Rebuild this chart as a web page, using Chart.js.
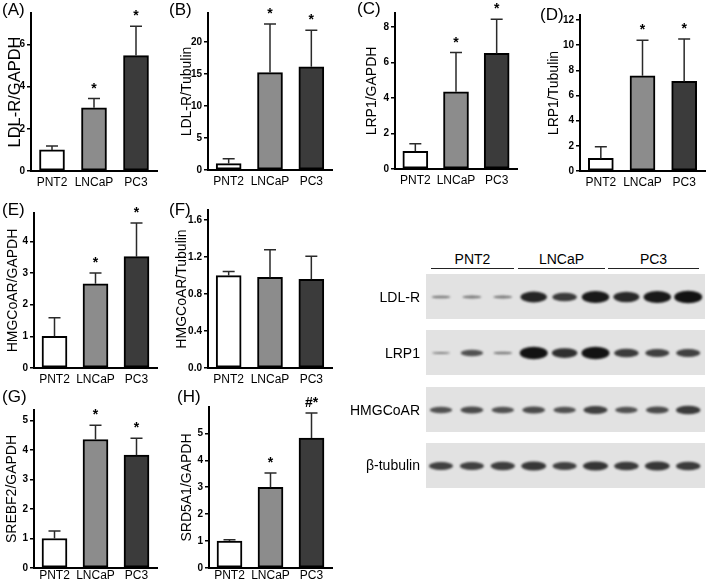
<!DOCTYPE html>
<html>
<head>
<meta charset="utf-8">
<script src="https://cdn.jsdelivr.net/npm/chart.js@4.4.1/dist/chart.umd.min.js"></script>
<style>
body { margin: 0; background: #fff; font-family: "Liberation Sans", Arial, sans-serif; }
#fig { position: relative; width: 709px; height: 586px; overflow: hidden; }
#fig canvas { position: absolute; }
.letter { position: absolute; font-size: 17px; line-height: 17px; color: #000; }
.blotLbl { position: absolute; width: 100px; text-align: right; font-size: 14px; line-height: 16px; color: #000; }
.hdr { position: absolute; text-align: center; font-size: 14px; line-height: 16px; color: #000; }
.hline { position: absolute; height: 0; border-top: 1.5px solid #222; }
</style>
</head>
<body>
<div id="fig">
  <canvas id="blot" width="349" height="225" style="left:360px; top:270px;"></canvas>
</div>
<script>
// cell lines (x categories)
var cells = ['PNT2', 'LNCaP', 'PC3'];
var barColors = ['#ffffff', '#8c8c8c', '#3b3b3b'];

// mean relative expression and SD (upper error) per panel
var ldlrGapdh = [1.0, 3.0, 5.48];
var ldlrGapdhSd = [0.19, 0.44, 1.39];
var ldlrTubulin = [1.0, 15.2, 16.1];
var ldlrTubulinSd = [0.75, 7.6, 5.7];
var lrp1Gapdh = [1.0, 4.36, 6.52];
var lrp1GapdhSd = [0.43, 2.21, 1.93];
var lrp1Tubulin = [1.0, 7.57, 7.12];
var lrp1TubulinSd = [0.92, 2.83, 3.38];
var hmgGapdh = [1.0, 2.66, 3.52];
var hmgGapdhSd = [0.59, 0.34, 1.06];
var hmgTubulin = [1.0, 0.98, 0.96];
var hmgTubulinSd = [0.045, 0.30, 0.25];
var srebf2Gapdh = [1.0, 4.35, 3.82];
var srebf2GapdhSd = [0.25, 0.48, 0.57];
var srd5a1Gapdh = [1.0, 3.0, 4.83];
var srd5a1GapdhSd = [0.05, 0.53, 0.93];

// significance marks
var marksStd = ['', '*', '*'];
var marksNone = ['', '', ''];
var marksH = ['', '*', '#*'];

// western blot band intensities (9 lanes: 3 x PNT2, 3 x LNCaP, 3 x PC3)
var blotNames = ['LDL-R', 'LRP1', 'HMGCoAR', 'β-tubulin'];
var ldlrBands = [0.1, 0.12, 0.12, 0.85, 0.65, 0.95, 0.8, 0.95, 1.0];
var lrp1Bands = [0.03, 0.45, 0.1, 1.0, 0.75, 1.0, 0.65, 0.6, 0.6];
var hmgBands = [0.45, 0.5, 0.45, 0.5, 0.45, 0.6, 0.45, 0.5, 0.65];
var tubulinBands = [0.6, 0.6, 0.62, 0.68, 0.6, 0.7, 0.65, 0.68, 0.65];

Chart.defaults.font.family = '"Liberation Sans", Arial, sans-serif';
Chart.defaults.color = '#000';

var errorBars = {
  id: 'errorBars',
  afterDatasetsDraw: function(chart, args, opts) {
    var ctx = chart.ctx;
    var y = chart.scales.y;
    var vals = chart.data.datasets[0].data;
    ctx.save();
    chart.getDatasetMeta(0).data.forEach(function(bar, i) {
      var top = y.getPixelForValue(vals[i]);
      var end = y.getPixelForValue(vals[i] + opts.sd[i]);
      ctx.strokeStyle = '#2a2a2a';
      ctx.lineWidth = 1.5;
      ctx.beginPath();
      ctx.moveTo(bar.x, top);
      ctx.lineTo(bar.x, end);
      ctx.moveTo(bar.x - 6, end);
      ctx.lineTo(bar.x + 6, end);
      ctx.stroke();
      if (opts.marks[i]) {
        ctx.fillStyle = '#000';
        ctx.font = 'bold 14px "Liberation Sans", Arial';
        ctx.textAlign = 'center';
        ctx.textBaseline = 'alphabetic';
        ctx.fillText(opts.marks[i], bar.x, end - 6);
      }
    });
    ctx.restore();
  }
};

var panels = [
  {letter: '(A)', lx: 2, ly: 1, title: 'LDL-R/GAPDH', means: ldlrGapdh, sd: ldlrGapdhSd, marks: marksStd,
   max: 7.5, step: 2, box: [0, 0, 170, 195], ax: 31, rx: 157, top: 13, base: 171, titleX: 15, titleSize: 16.5, xPad: 4},
  {letter: '(B)', lx: 169, ly: 1, title: 'LDL-R/Tubulin', means: ldlrTubulin, sd: ldlrTubulinSd, marks: marksStd,
   max: 24.5, step: 5, box: [172, 0, 170, 195], ax: 208, rx: 332, top: 13, base: 170, titleX: 187, titleSize: 14, xPad: 4},
  {letter: '(C)', lx: 357, ly: 0, title: 'LRP1/GAPDH', means: lrp1Gapdh, sd: lrp1GapdhSd, marks: marksStd,
   max: 8.8, step: 2, box: [352, 0, 175, 195], ax: 395, rx: 517, top: 13, base: 169, titleX: 372, titleSize: 14, xPad: 4},
  {letter: '(D)', lx: 540, ly: 6, title: 'LRP1/Tubulin', means: lrp1Tubulin, sd: lrp1TubulinSd, marks: marksStd,
   max: 12.4, step: 2, box: [530, 0, 179, 195], ax: 580, rx: 705, top: 15, base: 171, titleX: 554, titleSize: 14, xPad: 4},
  {letter: '(E)', lx: 2, ly: 201, title: 'HMGCoAR/GAPDH', means: hmgGapdh, sd: hmgGapdhSd, marks: marksStd,
   max: 4.9, step: 1, box: [0, 195, 170, 195], ax: 34, rx: 157, top: 213, base: 368, titleX: 13, titleSize: 14, xPad: 4},
  {letter: '(F)', lx: 169, ly: 201, title: 'HMGCoAR/Tubulin', means: hmgTubulin, sd: hmgTubulinSd, marks: marksNone,
   max: 1.71, step: 0.4, decimals: 1, box: [168, 195, 172, 195], ax: 208, rx: 332, top: 210, base: 368, titleX: 182, titleSize: 14, xPad: 4},
  {letter: '(G)', lx: 2, ly: 388, title: 'SREBF2/GAPDH', means: srebf2Gapdh, sd: srebf2GapdhSd, marks: marksStd,
   max: 5.35, step: 1, box: [0, 395, 170, 191], ax: 34, rx: 157, top: 410, base: 568, titleX: 12, titleSize: 14, xPad: 0},
  {letter: '(H)', lx: 177, ly: 388, title: 'SRD5A1/GAPDH', means: srd5a1Gapdh, sd: srd5a1GapdhSd, marks: marksH,
   max: 5.98, step: 1, box: [172, 395, 170, 191], ax: 209, rx: 332, top: 407, base: 568, titleX: 187, titleSize: 14, xPad: 0}
];

var fig = document.getElementById('fig');

panels.forEach(function(p) {
  var cv = document.createElement('canvas');
  cv.width = p.box[2];
  cv.height = p.box[3];
  cv.style.left = p.box[0] + 'px';
  cv.style.top = p.box[1] + 'px';
  fig.appendChild(cv);

  var lbl = document.createElement('div');
  lbl.className = 'letter';
  lbl.style.left = p.lx + 'px';
  lbl.style.top = p.ly + 'px';
  lbl.textContent = p.letter;
  fig.appendChild(lbl);

  var lh = p.titleSize * 1.2;
  new Chart(cv, {
    type: 'bar',
    data: {
      labels: cells,
      datasets: [{
        data: p.means,
        backgroundColor: barColors,
        borderColor: '#000',
        borderWidth: 2,
        borderSkipped: false,
        barThickness: 25
      }]
    },
    options: {
      responsive: false,
      animation: false,
      devicePixelRatio: 1,
      layout: { padding: { left: 0, top: p.top - p.box[1], right: p.box[0] + p.box[2] - p.rx, bottom: 0 } },
      plugins: {
        legend: { display: false },
        tooltip: { enabled: false },
        errorBars: { sd: p.sd, marks: p.marks }
      },
      scales: {
        x: {
          grid: { display: false, drawTicks: false },
          border: { color: '#000', width: 2 },
          ticks: { padding: p.xPad, autoSkip: false, font: { size: 12 }, color: '#000', maxRotation: 0 },
          afterFit: function(s) { s.height = p.box[1] + p.box[3] - p.base; }
        },
        y: {
          min: 0,
          max: p.max,
          grid: { drawOnChartArea: false, color: '#000', lineWidth: 1.5, tickLength: 4 },
          border: { color: '#000', width: 2 },
          ticks: {
            stepSize: p.step,
            includeBounds: false,
            padding: 2,
            color: '#000',
            font: { size: 10, weight: 'bold' },
            callback: function(v) { return p.decimals ? v.toFixed(p.decimals) : v; }
          },
          title: {
            display: true,
            text: p.title,
            color: '#000',
            font: { size: p.titleSize },
            padding: { top: p.titleX - p.box[0] - lh / 2, bottom: 0 }
          },
          afterFit: function(s) { s.width = p.ax - p.box[0]; }
        }
      }
    },
    plugins: [errorBars]
  });
});

// western blot panel (drawn on a plain canvas, offset 360,270)
var blotBands = [ldlrBands, lrp1Bands, hmgBands, tubulinBands];
var rowTops = [274, 330, 387, 443];
var labelY = [297, 353, 410, 465];
var g = document.getElementById('blot').getContext('2d');
blotBands.forEach(function(bands, k) {
  var y0 = rowTops[k] - 270;
  g.fillStyle = '#e2e2e2';
  g.fillRect(66, y0, 279, 45);
  g.save();
  g.filter = 'blur(1.2px)';
  bands.forEach(function(v, i) {
    var cx = 81 + i * 30.9;
    var cy = y0 + 23;
    g.fillStyle = 'rgba(18,18,18,' + (0.45 + 0.55 * v) + ')';
    g.beginPath();
    g.ellipse(cx, cy, (18 + 10 * v) / 2, (1.5 + 11 * v) / 2, 0, 0, Math.PI * 2);
    g.fill();
  });
  g.restore();

  var d = document.createElement('div');
  d.className = 'blotLbl';
  d.style.left = '320px';
  d.style.top = (labelY[k] - 8) + 'px';
  d.textContent = blotNames[k];
  fig.appendChild(d);
});

var groupSpans = [[431, 514], [518, 605], [608, 699]];
cells.forEach(function(c, i) {
  var s = groupSpans[i];
  var h = document.createElement('div');
  h.className = 'hdr';
  h.style.left = s[0] + 'px';
  h.style.width = (s[1] - s[0]) + 'px';
  h.style.top = '251px';
  h.textContent = c;
  fig.appendChild(h);
  var ln = document.createElement('div');
  ln.className = 'hline';
  ln.style.left = s[0] + 'px';
  ln.style.width = (s[1] - s[0]) + 'px';
  ln.style.top = '268px';
  fig.appendChild(ln);
});
</script>
</body>
</html>
